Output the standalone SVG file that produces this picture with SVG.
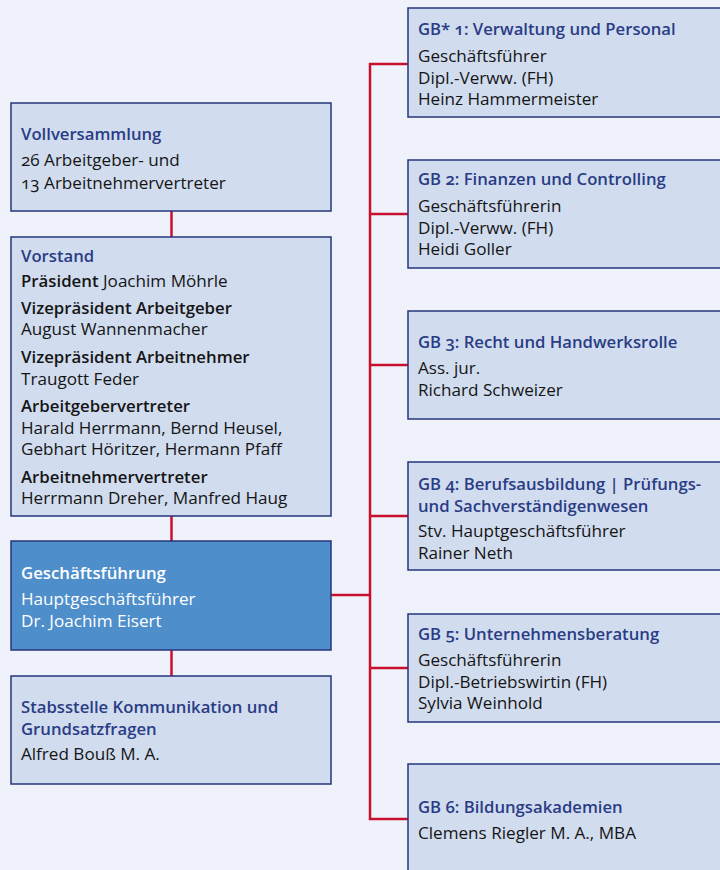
<svg xmlns="http://www.w3.org/2000/svg" width="720" height="870" viewBox="0 0 720 870">
<style>
text{font-family:"Open Sans","Noto Sans","DejaVu Sans",sans-serif;font-size:17.1px;fill:#151515;font-variant-numeric:oldstyle-nums}
.box{fill:#d1dcef;stroke:#25367b;stroke-width:1.5}
.dark{fill:#4e8ecb;stroke:#25367b;stroke-width:1.5}
.t{fill:#2a3c85;font-weight:600;font-size:16.7px}
.b{font-weight:600;font-size:16.8px}
.w{fill:#ffffff}
.con{stroke:#c8102e;stroke-width:2.5;fill:none}
</style>
<rect width="720" height="870" fill="#eff2fb"/>
<g id="connectors">
<line class="con" x1="171.5" y1="211" x2="171.5" y2="237"/>
<line class="con" x1="171.5" y1="516" x2="171.5" y2="541"/>
<line class="con" x1="171.5" y1="650" x2="171.5" y2="676"/>
<line class="con" x1="331" y1="595" x2="370" y2="595"/>
<path class="con" d="M408 64H370V819H408M370 214H408M370 365H408M370 516H408M370 668H408"/>
</g>
<g id="vollversammlung">
<rect class="box" x="11" y="103" width="320" height="108"/>
<text x="21" y="140" class="t">Vollversammlung</text>
<text x="21" y="166">26 Arbeitgeber- und</text>
<text x="21" y="188.5">13 Arbeitnehmervertreter</text>
</g>
<g id="vorstand">
<rect class="box" x="11" y="237" width="320" height="279"/>
<text x="21" y="262" class="t">Vorstand</text>
<text x="21" y="287"><tspan class="b">Präsident</tspan> Joachim Möhrle</text>
<text x="21" y="313.5" class="b">Vizepräsident Arbeitgeber</text>
<text x="21" y="335">August Wannenmacher</text>
<text x="21" y="362.5" class="b">Vizepräsident Arbeitnehmer</text>
<text x="21" y="384.5">Traugott Feder</text>
<text x="21" y="411.5" class="b">Arbeitgebervertreter</text>
<text x="21" y="433.5">Harald Herrmann, Bernd Heusel,</text>
<text x="21" y="455">Gebhart Höritzer, Hermann Pfaff</text>
<text x="21" y="482.5" class="b">Arbeitnehmervertreter</text>
<text x="21" y="504">Herrmann Dreher, Manfred Haug</text>
</g>
<g id="geschaeftsfuehrung">
<rect class="dark" x="11" y="541" width="320" height="109"/>
<text x="21" y="578.5" class="w b">Geschäftsführung</text>
<text x="21" y="605" class="w">Hauptgeschäftsführer</text>
<text x="21" y="627" class="w">Dr. Joachim Eisert</text>
</g>
<g id="stabsstelle">
<rect class="box" x="11" y="676" width="320" height="108"/>
<text x="21" y="712.5" class="t">Stabsstelle Kommunikation und</text>
<text x="21" y="734.5" class="t">Grundsatzfragen</text>
<text x="21" y="760">Alfred Bouß M. A.</text>
</g>
<g id="gb1">
<rect class="box" x="408" y="8" width="320" height="109"/>
<text x="418" y="34.5" class="t">GB* 1: Verwaltung und Personal</text>
<text x="418" y="61.5">Geschäftsführer</text>
<text x="418" y="83.5">Dipl.-Verww. (FH)</text>
<text x="418" y="105">Heinz Hammermeister</text>
</g>
<g id="gb2">
<rect class="box" x="408" y="160" width="320" height="108"/>
<text x="418" y="185" class="t">GB 2: Finanzen und Controlling</text>
<text x="418" y="212">Geschäftsführerin</text>
<text x="418" y="233.5">Dipl.-Verww. (FH)</text>
<text x="418" y="255">Heidi Goller</text>
</g>
<g id="gb3">
<rect class="box" x="408" y="311" width="320" height="108"/>
<text x="418" y="347.5" class="t">GB 3: Recht und Handwerksrolle</text>
<text x="418" y="374">Ass. jur.</text>
<text x="418" y="396">Richard Schweizer</text>
</g>
<g id="gb4">
<rect class="box" x="408" y="462" width="320" height="108"/>
<text x="418" y="489.5" class="t">GB 4: Berufsausbildung | Prüfungs-</text>
<text x="418" y="511.5" class="t">und Sachverständigenwesen</text>
<text x="418" y="536.5">Stv. Hauptgeschäftsführer</text>
<text x="418" y="559">Rainer Neth</text>
</g>
<g id="gb5">
<rect class="box" x="408" y="614" width="320" height="108"/>
<text x="418" y="639.5" class="t">GB 5: Unternehmensberatung</text>
<text x="418" y="665.5">Geschäftsführerin</text>
<text x="418" y="687.5">Dipl.-Betriebswirtin (FH)</text>
<text x="418" y="709">Sylvia Weinhold</text>
</g>
<g id="gb6">
<rect class="box" x="408" y="764" width="320" height="112"/>
<text x="418" y="812.5" class="t">GB 6: Bildungsakademien</text>
<text x="418" y="838.5">Clemens Riegler M. A., MBA</text>
</g>
</svg>
